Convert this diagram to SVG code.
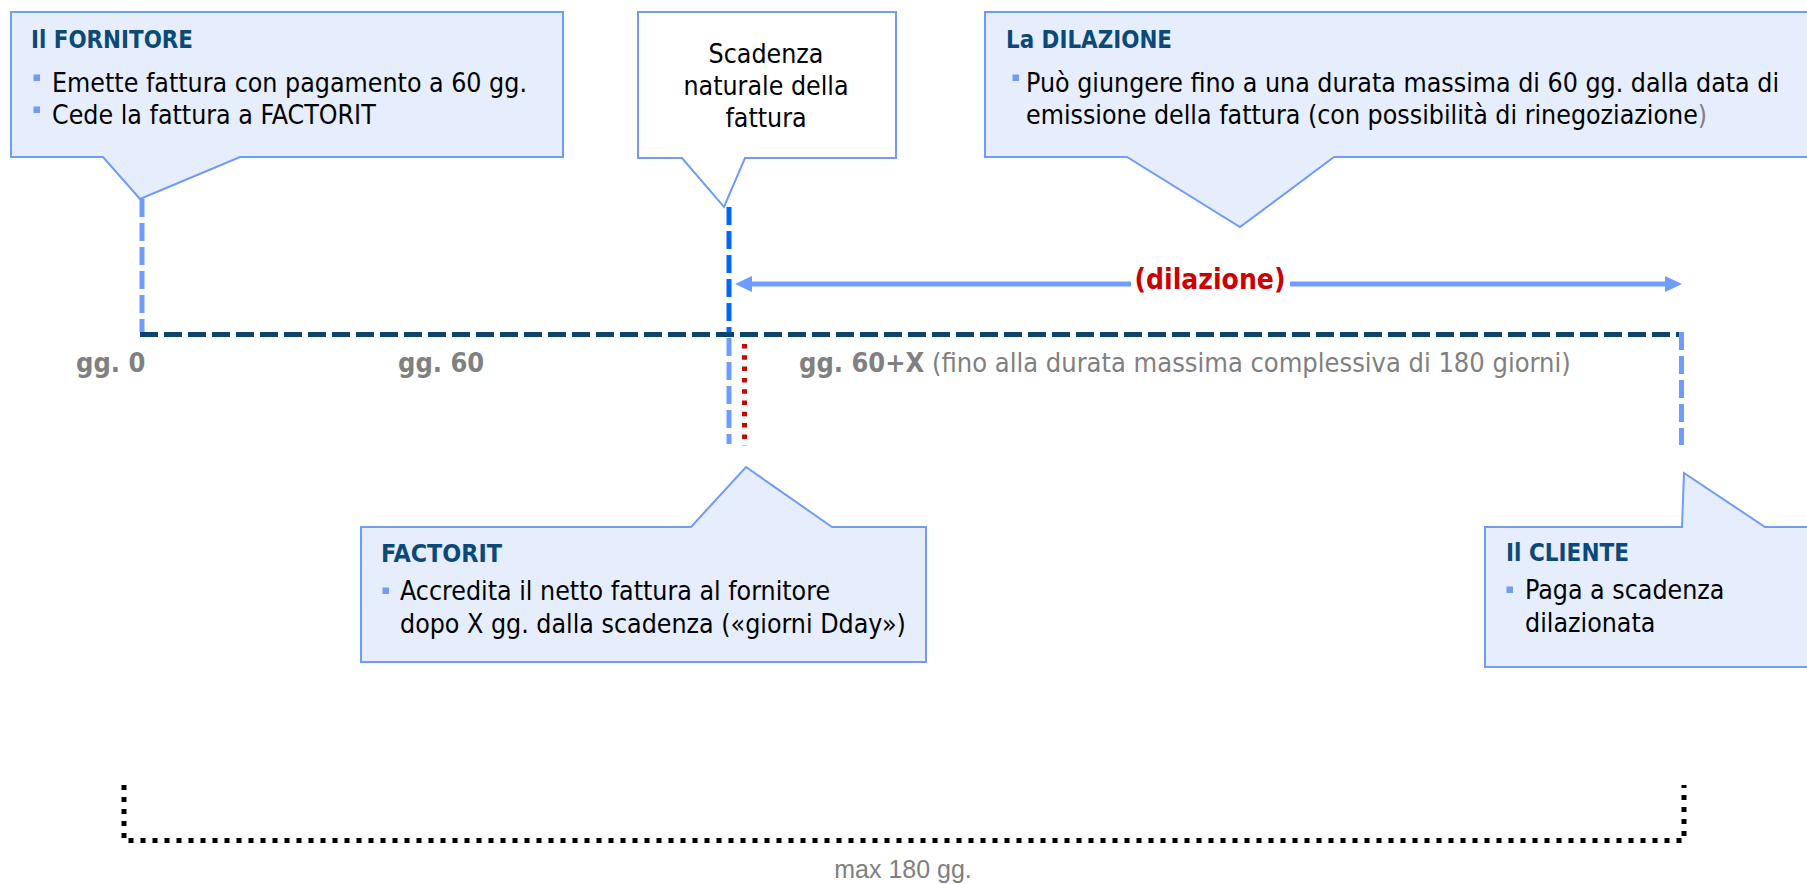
<svg xmlns="http://www.w3.org/2000/svg" width="1807" height="884" viewBox="0 0 1807 884">
<style>
.box{fill:#e6edfc;stroke:#6e9cf7;stroke-width:2}
.wbox{fill:#ffffff;stroke:#6e9cf7;stroke-width:2}
.title{font-family:"DejaVu Sans",sans-serif;font-stretch:condensed;font-weight:bold;font-size:24px;fill:#0b4a78}
.body{font-family:"DejaVu Sans",sans-serif;font-stretch:condensed;font-size:26.5px;fill:#000000}
.bul{fill:#6e9cf7}
.gg{font-family:"DejaVu Sans",sans-serif;font-stretch:condensed;font-size:27px;fill:#808080}
.b{font-weight:bold}
.lb{fill:none;stroke:#6d9dff;stroke-width:5;stroke-dasharray:18 6}
.db{fill:none;stroke:#0066ff;stroke-width:5;stroke-dasharray:18 6}
.axis{fill:none;stroke:#0a4470;stroke-width:5;stroke-dasharray:18 6}
.red{fill:none;stroke:#cc0000;stroke-width:5;stroke-dasharray:4.5 6.8}
.arr{fill:none;stroke:#6d9dff;stroke-width:5}
.brk{fill:none;stroke:#000000;stroke-width:5;stroke-dasharray:5 7}
</style>
<defs>
<marker id="ah" markerUnits="userSpaceOnUse" markerWidth="17" markerHeight="16" refX="0" refY="8" orient="auto-start-reverse" viewBox="0 0 17 16">
<path d="M0,0 L17,8 L0,16 Z" fill="#6d9dff"/>
</marker>
</defs>
<rect width="1807" height="884" fill="#ffffff"/>

<g id="connectors">
<line class="lb" x1="142" y1="199" x2="142" y2="332"/>
<line class="db" x1="729" y1="207" x2="729" y2="332"/>
<line class="lb" x1="729" y1="338" x2="729" y2="444"/>
<line class="red" x1="744.5" y1="344" x2="744.5" y2="446"/>
<line class="axis" x1="140" y1="334.5" x2="1684" y2="334.5"/>
<line class="lb" x1="1681.5" y1="332" x2="1681.5" y2="445"/>
<line class="arr" x1="752" y1="284" x2="1131" y2="284" marker-start="url(#ah)"/>
<line class="arr" x1="1290" y1="284" x2="1665" y2="284" marker-end="url(#ah)"/>
<polyline class="brk" points="124,785 124,840.5 1684,840.5 1684,785"/>
</g>

<g id="fornitore">
<path class="box" d="M11,12 H563 V157 H240 L140,199 L103,157 H11 Z"/>
<text class="title" x="31" y="48" textLength="162" lengthAdjust="spacingAndGlyphs">Il FORNITORE</text>
<rect class="bul" x="33.5" y="74.5" width="6.5" height="6.5"/>
<text class="body" x="52" y="92">Emette fattura con pagamento a 60 gg.</text>
<rect class="bul" x="33.5" y="106.5" width="6.5" height="6.5"/>
<text class="body" x="52" y="124">Cede la fattura a FACTORIT</text>
</g>

<g id="scadenza">
<path class="wbox" d="M638,12 H896 V158 H745 L724,207 L682,158 H638 Z"/>
<text class="body" x="766" y="63" text-anchor="middle">Scadenza</text>
<text class="body" x="766" y="95" text-anchor="middle">naturale della</text>
<text class="body" x="766" y="127" text-anchor="middle">fattura</text>
</g>

<g id="dilazione">
<path class="box" d="M985,12 H1812 V157 H1334 L1240,227 L1127,157 H985 Z"/>
<text class="title" x="1006" y="48" textLength="166" lengthAdjust="spacingAndGlyphs">La DILAZIONE</text>
<rect class="bul" x="1012.5" y="74.5" width="6.5" height="6.5"/>
<text class="body" x="1026" y="92">Può giungere fino a una durata massima di 60 gg. dalla data di</text>
<text class="body" x="1026" y="124">emissione della fattura (con possibilità di rinegoziazione<tspan fill="#808080">)</tspan></text>
</g>

<g id="label-dilazione">
<text x="1210" y="289" text-anchor="middle" font-family="DejaVu Sans, sans-serif" font-stretch="condensed" font-weight="bold" font-size="28" fill="#cc0000">(dilazione)</text>
</g>

<g id="labels-gg">
<text class="gg b" x="76" y="372">gg. 0</text>
<text class="gg b" x="398" y="372">gg. 60</text>
<text class="gg" x="799" y="372"><tspan class="b">gg. 60+X</tspan> (fino alla durata massima complessiva di 180 giorni)</text>
</g>

<g id="factorit">
<path class="box" d="M361,527 H691 L746,467 L832,527 H926 V662 H361 Z"/>
<text class="title" x="381" y="562" textLength="121" lengthAdjust="spacingAndGlyphs">FACTORIT</text>
<rect class="bul" x="382.5" y="587.5" width="6.5" height="6.5"/>
<text class="body" x="400" y="600">Accredita il netto fattura al fornitore</text>
<text class="body" x="400" y="633">dopo X gg. dalla scadenza («giorni Dday»)</text>
</g>

<g id="cliente">
<path class="box" d="M1485,527 H1682 L1684,473 L1765,527 H1812 V667 H1485 Z"/>
<text class="title" x="1506" y="561" textLength="123" lengthAdjust="spacingAndGlyphs">Il CLIENTE</text>
<rect class="bul" x="1506.5" y="586.5" width="6.5" height="6.5"/>
<text class="body" x="1525" y="599">Paga a scadenza</text>
<text class="body" x="1525" y="632">dilazionata</text>
</g>

<g id="max-label">
<text x="903" y="878" text-anchor="middle" font-family="Liberation Sans, Arial, sans-serif" font-size="25" fill="#7f7f7f">max 180 gg.</text>
</g>
</svg>
